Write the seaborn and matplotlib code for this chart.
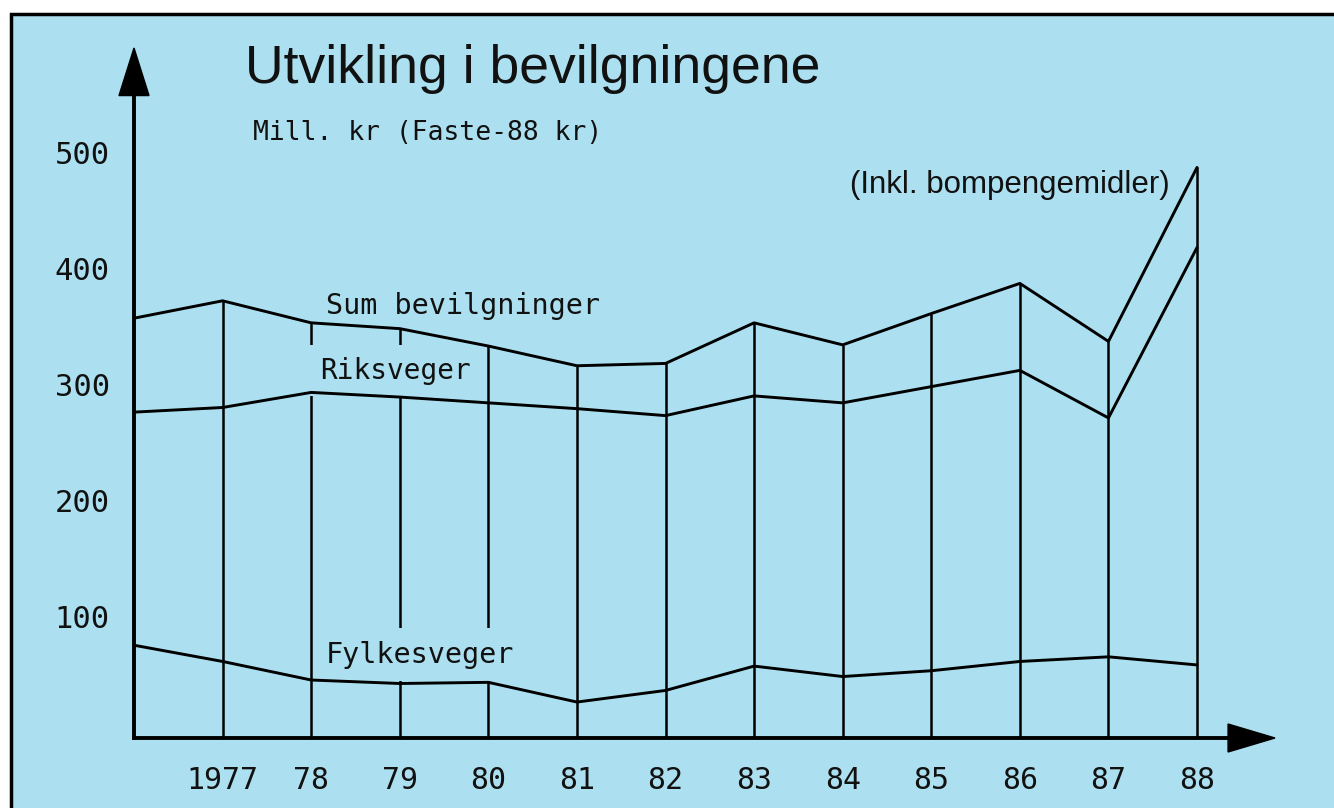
import numpy as np
import pandas as pd
import matplotlib
matplotlib.use("Agg")
import matplotlib.pyplot as plt
import matplotlib.transforms as mtransforms
from matplotlib.patches import Rectangle
import seaborn as sns

# Values (Mill. kr, faste 1988-kroner)
years = [1976, 1977, 1978, 1979, 1980, 1981, 1982, 1983, 1984, 1985, 1986, 1987, 1988]
sum_bevilgninger = [362, 377, 358, 353, 338, 321, 323, 358, 339, 366, 392, 342, 492]
riksveger = [281, 285, 298, 294, 289, 284, 278, 295, 289, 303, 317, 276, 423]
fylkesveger = [80, 66, 50, 47, 48, 31, 41, 62, 53, 58, 66, 70, 63]

year_labels = ["1977", "78", "79", "80", "81", "82", "83", "84", "85", "86", "87", "88"]
y_ticks = [100, 200, 300, 400, 500]

BG = "#ace0f0"
W, H = 1334, 808

df = pd.DataFrame({
    "year": years * 3,
    "value": sum_bevilgninger + riksveger + fylkesveger,
    "serie": ["Sum bevilgninger"] * len(years)
             + ["Riksveger"] * len(years)
             + ["Fylkesveger"] * len(years),
})

sns.set_theme(style="white")
plt.rcParams["font.family"] = ["DejaVu Sans Mono", "DejaVu Sans"]

fig = plt.figure(figsize=(W / 100, H / 100), dpi=100, facecolor="white")

# framed light-blue card, cut at right and bottom
fig.patches.append(Rectangle((11 / W, -0.05), 1.1, 1.05 - 14 / H,
                             transform=fig.transFigure, facecolor=BG,
                             edgecolor="black", linewidth=2.5, zorder=-5))

# axes placed so that 1976 sits on the y-axis and 88 on the last vertical
x_lo, x_hi = 1976, 1988.88
y_lo, y_hi = 0, 595
left_px, right_px, top_px, bot_px = 134, 1275, 48, 738
ax = fig.add_axes([left_px / W, 1 - bot_px / H,
                   (right_px - left_px) / W, (bot_px - top_px) / H])
ax.set_zorder(1)
ax.set_facecolor("none")
ax.set_xlim(x_lo, x_hi)
ax.set_ylim(y_lo, y_hi)

# vertical year lines up to the sum line
ax.vlines(years[1:], y_lo, sum_bevilgninger[1:], color="black", lw=1.8, zorder=1)

sns.lineplot(data=df, x="year", y="value", units="serie", estimator=None,
             color="black", lw=2.1, ax=ax, zorder=3, clip_on=False)

# axis lines with arrow heads
for s in ["top", "right"]:
    ax.spines[s].set_visible(False)
ax.spines["left"].set_bounds(y_lo, 554)
ax.spines["bottom"].set_bounds(x_lo, 1988.35)
for s in ["left", "bottom"]:
    ax.spines[s].set_linewidth(2.8)
    ax.spines[s].set_color("black")
    ax.spines[s].set_zorder(4)
hw = 15 / ((right_px - left_px) / (x_hi - x_lo))
ax.fill([x_lo - hw, x_lo + hw, x_lo], [554, 554, y_hi], color="black", clip_on=False, zorder=4)
vh = 14 / ((bot_px - top_px) / (y_hi - y_lo))
ax.fill([1988.35, 1988.35, x_hi], [y_lo - vh, y_lo + vh, y_lo], color="black", clip_on=False, zorder=4)

ax.set_yticks(y_ticks)
ax.set_yticklabels([str(v) for v in y_ticks])
ax.tick_params(axis="y", direction="inout", length=15, width=2, color="black",
               pad=10, labelsize=22, labelcolor="#111111")
ax.set_xticks(years[1:])
ax.set_xticklabels(year_labels)
ax.tick_params(axis="x", length=0, pad=20, labelsize=21.5, labelcolor="#111111")
shift = mtransforms.ScaledTranslation(0, 6 / 100, fig.dpi_scale_trans)
for lab in ax.get_yticklabels():
    lab.set_transform(lab.get_transform() + shift)
ax.set_xlabel("")
ax.set_ylabel("")
legend = ax.get_legend()
if legend is not None:
    legend.remove()

# series labels; the boxes blank out the year lines behind them
ax.text(1978.17, 366, "Sum bevilgninger", fontsize=20.5, color="#111111", zorder=2.5)
ax.text(1978.1, 310, "Riksveger", fontsize=20, color="#111111", zorder=2.5,
        bbox=dict(boxstyle="square,pad=0.4", facecolor=BG, edgecolor="none"))
ax.text(1978.17, 65, "Fylkesveger", fontsize=20.5, color="#111111", zorder=2.5,
        bbox=dict(boxstyle="square,pad=0.45", facecolor=BG, edgecolor="none"))

# titles
fig.text(245 / W, 1 - 83 / H, "Utvikling i bevilgningene", fontsize=38.5,
         family=["Liberation Sans", "DejaVu Sans"], color="#111111")
fig.text(253 / W, 1 - 140 / H, "Mill. kr (Faste-88 kr)", fontsize=19, color="#111111")
fig.text(850 / W, 1 - 193 / H, "(Inkl. bompengemidler)", fontsize=22.5,
         family=["Liberation Sans", "DejaVu Sans"], color="#111111")

fig.savefig("out.png", dpi=100, facecolor="white")
